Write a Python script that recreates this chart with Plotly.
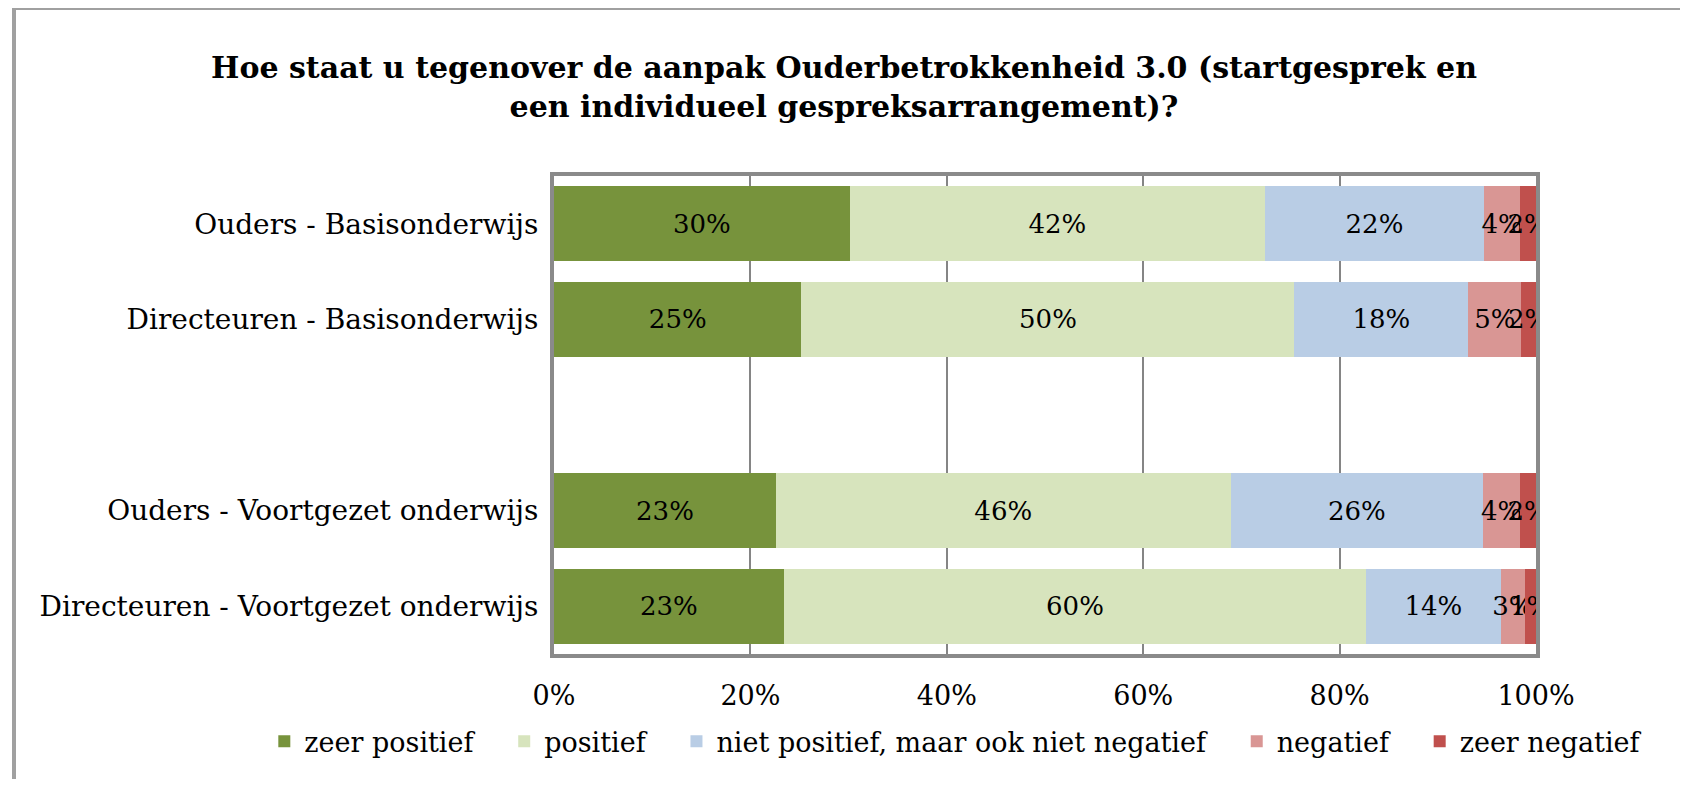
import plotly.graph_objects as go

categories = ["Ouders - Basisonderwijs", "Directeuren - Basisonderwijs", " ",
              "Ouders - Voortgezet onderwijs", "Directeuren - Voortgezet onderwijs"]
series_names = ["zeer positief", "positief", "niet positief, maar ook niet negatief",
                "negatief", "zeer negatief"]
zeer_positief = [30.1, 25.2, None, 22.6, 23.4]
positief = [42.3, 50.2, None, 46.3, 59.3]
neutraal = [22.3, 17.7, None, 25.7, 13.7]
negatief = [3.7, 5.4, None, 3.8, 2.5]
zeer_negatief = [1.6, 1.5, None, 1.6, 1.1]
lbl_zeer_positief = ["30%", "25%", "", "23%", "23%"]
lbl_positief = ["42%", "50%", "", "46%", "60%"]
lbl_neutraal = ["22%", "18%", "", "26%", "14%"]
lbl_negatief = ["4%", "5%", "", "4%", "3%"]
lbl_zeer_negatief = ["2%", "2%", "", "2%", "1%"]
tick_vals = [0, 20, 40, 60, 80, 100]
tick_text = ["0%", "20%", "40%", "60%", "80%", "100%"]

values = [zeer_positief, positief, neutraal, negatief, zeer_negatief]
labels = [lbl_zeer_positief, lbl_positief, lbl_neutraal, lbl_negatief, lbl_zeer_negatief]
colors = ["#77933C", "#D7E4BD", "#B9CDE5", "#D99694", "#C0504D"]

FONT = "DejaVu Serif"
W, H = 1672, 771  # page body has an 8px margin; keep within viewport (no scrollbars)
L, R, T, B = 546, 144, 168, 125
PAD = "\u00a0\u00a0\u00a0"  # extra spacing after each legend entry

fig = go.Figure()
for i, (name, vals, lab, col) in enumerate(zip(series_names, values, labels, colors)):
    fig.add_trace(go.Bar(
        y=categories, x=vals, name=name + (PAD if i < len(series_names) - 1 else ""),
        orientation="h",
        marker=dict(color=col, line=dict(width=0)),
        text=lab, textposition="inside", insidetextanchor="middle",
        textangle=0, constraintext="none",
        textfont=dict(family=FONT, size=26, color="#000000"),
        hoverinfo="skip",
    ))

fig.update_layout(
    barmode="stack",
    bargap=0.215,
    width=W, height=H,
    paper_bgcolor="white", plot_bgcolor="white",
    margin=dict(l=L, r=R, t=T, b=B),
    title=dict(
        text="<b>Hoe staat u tegenover de aanpak Ouderbetrokkenheid 3.0 (startgesprek en<br>een individueel gespreksarrangement)?</b>",
        x=0.5, xanchor="center",
        y=1 - 70 / H, yanchor="top",
        font=dict(family=FONT, size=30, color="#000000"),
    ),
    showlegend=True,
    legend=dict(
        orientation="h", x=-0.295, xanchor="left", y=-0.132, yanchor="top",
        font=dict(family=FONT, size=27, color="#000000"),
        traceorder="normal", itemwidth=30, tracegroupgap=0,
    ),
    font=dict(family=FONT, color="#000000"),
)

fig.update_xaxes(
    range=[0, 100], tickvals=tick_vals, ticktext=tick_text,
    showgrid=True, gridcolor="#858585", gridwidth=2,
    showline=True, linecolor="#8A8A8A", linewidth=4, mirror=True,
    ticks="", ticklabelstandoff=15, zeroline=False,
    tickfont=dict(family=FONT, size=27, color="#000000"),
    fixedrange=True,
)
fig.update_yaxes(
    type="category", categoryorder="array", categoryarray=categories,
    autorange="reversed",
    showgrid=False, showline=True, linecolor="#8A8A8A", linewidth=4, mirror=True,
    ticks="", ticklabelstandoff=6,
    tickfont=dict(family=FONT, size=28, color="#000000"),
    fixedrange=True,
)

fig.add_shape(type="rect", xref="paper", yref="paper",
              x0=(6 - L) / (W - L - R), x1=1.25,
              y0=-0.5, y1=(H - B) / (H - T - B),
              line=dict(color="#A0A0A0", width=4), fillcolor="rgba(0,0,0,0)", layer="above")

fig.write_html("out.html")
